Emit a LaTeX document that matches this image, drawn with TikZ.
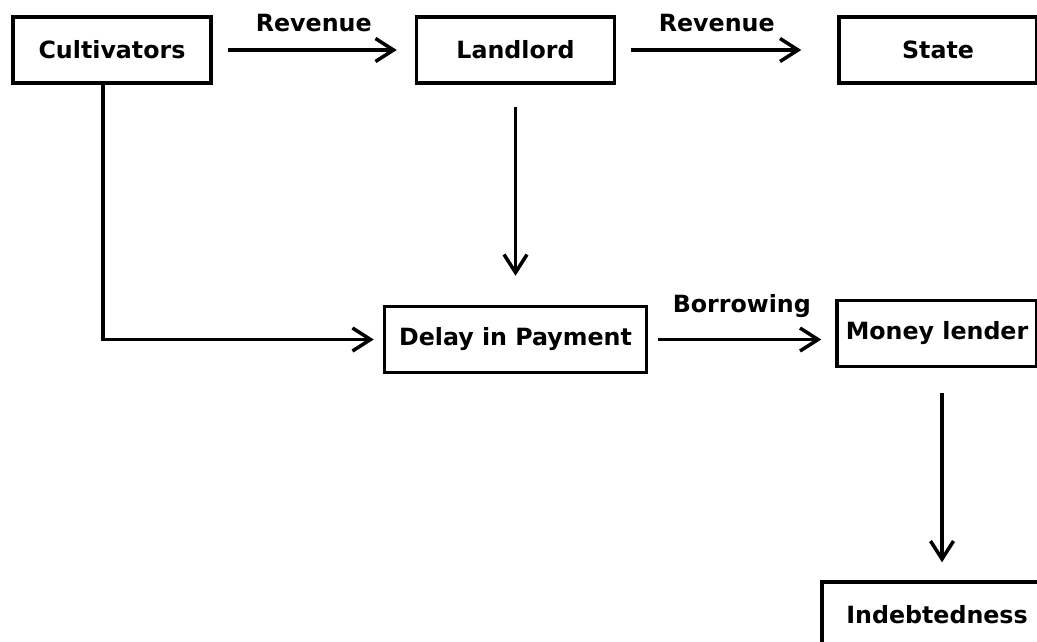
\documentclass[tikz,border=0pt]{standalone}
\usepackage{fontspec}
\setmainfont{DejaVu Sans}
\usetikzlibrary{positioning, calc, arrows.meta}

\begin{document}
\begin{tikzpicture}[
    >={Straight Barb[length=0.36cm, width=0.46cm]},
    line width=2pt,
    font=\fontsize{13.5}{16}\selectfont\bfseries,
    node distance=1cm and 1.4cm,
    block/.style={
        draw,
        align=center,
        minimum height=1.32cm,
        minimum width=3.96cm,
        inner sep=4pt
    },
    flow/.style={->, shorten <=0.3cm, shorten >=0.36cm},
    edgelabel/.style={midway, above=0.32cm, inner sep=0pt}
]

% Canvas
\clip (0,0) rectangle (20.74,-12.84);

% Top row
\node[block] (Cult) at (2.24,-1.0) {Cultivators};
\node[block, right=4.04cm of Cult] (Land) {Landlord};
\node[block, right=4.42cm of Land] (State) {State};

% Middle row
\node[block, below=4.4cm of Land, minimum width=5.24cm] (Delay) {Delay in Payment};
\node[block, right=3.74cm of Delay, yshift=0.12cm, minimum width=4.0cm] (Lender) {Money lender};

% Bottom
\node[block, below=4.24cm of Lender, minimum width=4.6cm] (Debt) {Indebtedness};

% Edges
\draw[flow] (Cult) -- node[edgelabel] {Revenue} (Land);
\draw[flow, shorten >=0.72cm] (Land) -- node[edgelabel, xshift=-0.2cm] {Revenue} (State);
\draw[flow, shorten <=0.44cm, shorten >=0.58cm] (Land) -- (Delay);
\draw[->, shorten >=0.18cm] ([xshift=-0.18cm]Cult.south) |- (Delay.west);
\draw[flow, shorten <=0.2cm, shorten >=0.28cm] (Delay.east) -- node[edgelabel, above=0.4cm] {Borrowing} (Delay.east -| Lender.west);
\draw[flow, shorten <=0.5cm, shorten >=0.36cm] ([xshift=0.1cm]Lender.south) -- ([xshift=0.1cm]Lender.south |- Debt.north);

\end{tikzpicture}
\end{document}
